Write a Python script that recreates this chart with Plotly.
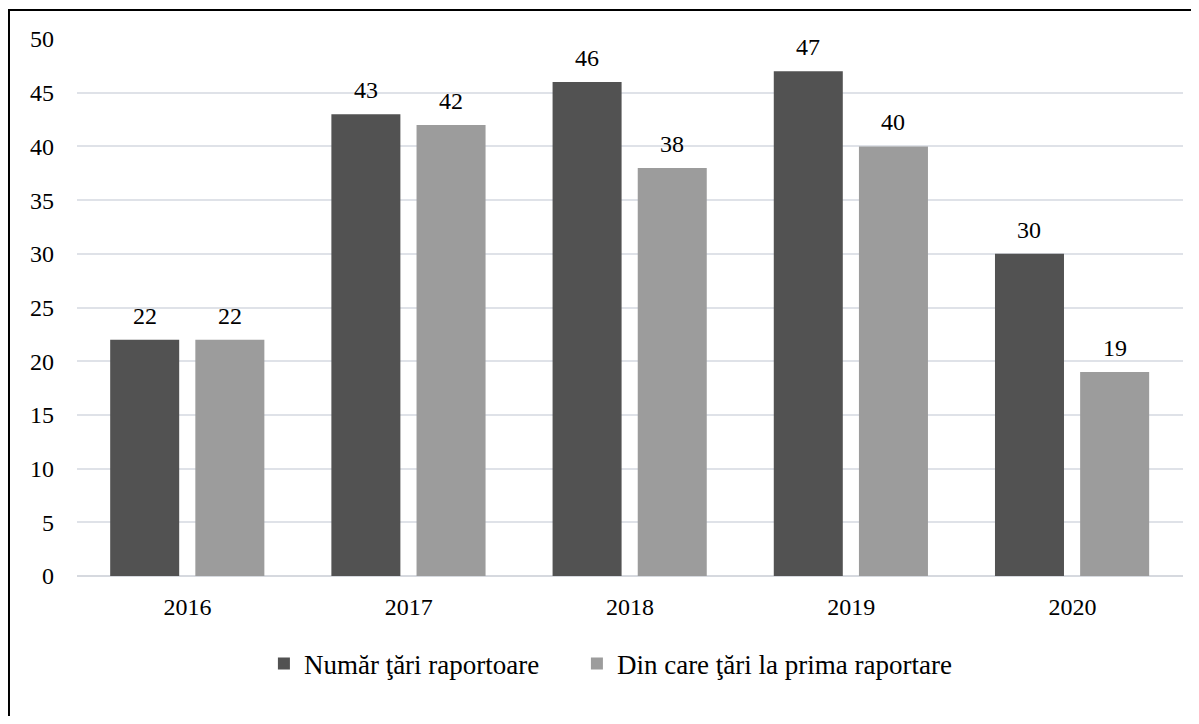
import plotly.graph_objects as go

years = ["2016", "2017", "2018", "2019", "2020"]
raportoare = [22, 43, 46, 47, 30]
prima = [22, 42, 38, 40, 19]
series_names = ["Număr ţări raportoare", "Din care ţări la prima raportare"]
y_ticks = [0, 5, 10, 15, 20, 25, 30, 35, 40, 45, 50]

FONT = "Liberation Serif"
FS = 24
LEG_FS = 27
BAR_W = 0.312
OFFSETS = [-0.35, 0.035]
COLORS = ["#525252", "#9c9c9c"]
LEGENDS = ["legend", "legend2"]

fig = go.Figure()
for name, vals, off, col, lg in zip(series_names, [raportoare, prima], OFFSETS, COLORS, LEGENDS):
    fig.add_trace(go.Bar(
        x=years, y=vals, name=name,
        width=BAR_W, offset=off,
        marker=dict(color=col, line=dict(width=0)),
        hoverinfo="x+y", legend=lg,
    ))

# value labels above each bar (x given as category index on the category axis)
for vals, off in zip([raportoare, prima], OFFSETS):
    for i, v in enumerate(vals):
        fig.add_annotation(
            x=i + off + BAR_W / 2, y=v, text=str(v), showarrow=False,
            yshift=9, yanchor="bottom",
            font=dict(family=FONT, size=FS, color="#000000"),
        )

# outer frame (only left and top edges visible in the reference)
fig.add_shape(type="path", xref="paper", yref="paper",
              path="M -0.0615 -0.4 L -0.0615 1.054 L 1.2 1.054",
              line=dict(color="#000000", width=2), layer="above")

legend_common = dict(orientation="h", xanchor="left", y=-0.164, yanchor="middle",
                     font=dict(family=FONT, size=LEG_FS, color="#000000"),
                     itemsizing="constant", bgcolor="rgba(0,0,0,0)")

fig.update_layout(
    width=1183, height=708,
    margin=dict(l=69, r=8, t=31, b=140),
    paper_bgcolor="white", plot_bgcolor="white",
    font=dict(family=FONT, size=FS, color="#000000"),
    barmode="overlay",
    showlegend=True,
    legend=dict(x=0.169, **legend_common),
    legend2=dict(x=0.452, **legend_common),
    xaxis=dict(type="category", range=[-0.5, len(years) - 0.5], showgrid=False, showline=False,
               ticks="", ticklabelstandoff=14,
               tickfont=dict(family=FONT, size=FS, color="#000000")),
    yaxis=dict(range=[0, 50], tickvals=y_ticks, showgrid=True, gridcolor="#dfe2e8",
               gridwidth=2, zeroline=True, zerolinecolor="#d6d9df", zerolinewidth=2,
               showline=False, ticks="", ticklabelstandoff=22,
               tickfont=dict(family=FONT, size=FS, color="#000000")),
)

fig.write_html("out.html")
